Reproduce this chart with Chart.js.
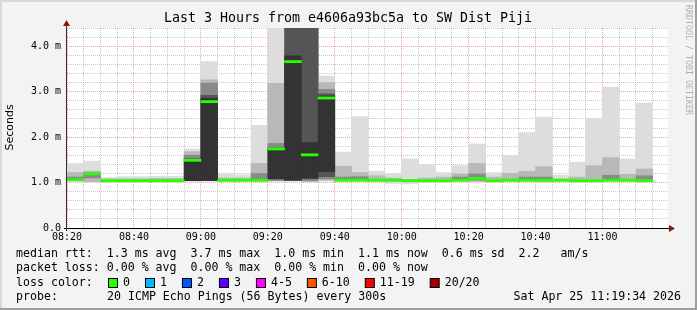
<!DOCTYPE html>
<html lang="en">
<head>
  <meta charset="UTF-8">
  <title>Last 3 Hours from e4606a93bc5a to SW Dist Piji</title>
  <script src="https://cdn.jsdelivr.net/npm/chart.js"></script>
  <style>
    html, body { margin: 0; padding: 0; background: #f3f3f3; }
    canvas { display: block; }
  </style>
</head>
<body>
  <canvas id="chart" width="697" height="310"></canvas>
  <script>
    // 5 minute slots (start time of each slot)
    const times = ['08:20','08:25','08:30','08:35','08:40','08:45','08:50','08:55','09:00','09:05',
                   '09:10','09:15','09:20','09:25','09:30','09:35','09:40','09:45','09:50','09:55',
                   '10:00','10:05','10:10','10:15','10:20','10:25','10:30','10:35','10:40','10:45',
                   '10:50','10:55','11:00','11:05','11:10'];

    // median rtt per slot (ms)
    const medianRtt = [1.06,1.19,1.04,1.04,1.04,1.04,1.04,1.49,2.78,1.05,
                       1.05,1.05,1.74,3.66,1.61,2.86,1.05,1.05,1.05,1.05,
                       1.04,1.04,1.04,1.05,1.09,1.04,1.05,1.05,1.05,1.05,
                       1.04,1.04,1.05,1.05,1.04];

    // smoke bands [low, high] in ms, from outer (lightest) to core (darkest)
    const smokeOuter = [[1.03,1.42],[1.00,1.47],[1.03,1.11],[1.03,1.13],[1.03,1.13],[1.03,1.14],[1.03,1.14],[1.03,1.74],[1.03,3.66],[1.03,1.19],
                        [1.03,1.17],[1.02,2.26],[1.03,4.5],[1.03,4.5],[1.03,4.5],[1.03,3.34],[1.03,1.67],[1.03,2.45],[1.03,1.25],[0.98,1.20],
                        [0.97,1.52],[1.02,1.39],[1.03,1.22],[1.03,1.37],[1.00,1.85],[1.03,1.22],[1.03,1.59],[1.03,2.10],[1.01,2.44],[1.03,1.16],
                        [1.02,1.45],[1.03,2.40],[1.03,3.10],[1.03,1.52],[1.03,2.75]];
    const smokeMid = [[1.04,1.22],[1.02,1.25],[1.04,1.08],[1.04,1.08],[1.04,1.08],[1.04,1.09],[1.04,1.09],[1.06,1.68],[1.05,3.26],[1.04,1.10],
                      [1.04,1.10],[1.04,1.42],[1.05,3.18],[1.04,4.5],[1.04,4.5],[1.05,3.20],[1.04,1.36],[1.04,1.22],[1.04,1.15],[1.03,1.10],
                      [1.02,1.07],[1.03,1.10],[1.04,1.12],[1.04,1.19],[1.03,1.42],[1.04,1.12],[1.04,1.20],[1.04,1.25],[1.03,1.35],[1.04,1.08],
                      [1.03,1.12],[1.04,1.37],[1.04,1.55],[1.04,1.18],[1.04,1.30]];
    const smokeInner = [[1.05,1.12],[1.10,1.21],null,null,null,null,null,[1.10,1.60],[1.06,3.19],null,
                        null,[1.05,1.20],[1.04,1.86],null,[1.03,4.5],[1.08,3.05],[1.05,1.12],[1.05,1.13],null,null,
                        null,null,null,[1.05,1.12],[1.05,1.19],null,null,[1.05,1.12],[1.05,1.12],null,
                        null,null,[1.05,1.16],null,[1.05,1.15]];
    const smokeDark = [null,null,null,null,null,null,null,null,[1.05,2.92],null,
                       null,null,null,[1.04,4.5],[1.08,4.5],[1.13,2.95],null,null,null,null,
                       null,null,null,null,null,null,null,null,null,null,
                       null,null,null,null,null];
    const smokeCore = [null,null,null,null,null,null,null,[1.04,1.52],[1.04,2.85],null,
                       null,null,[1.08,1.76],[1.06,3.79],[1.10,1.88],[1.24,2.90],null,null,null,null,
                       null,null,null,null,null,null,null,null,null,null,
                       null,null,null,null,null];

    const lossLabels = ['0','1','2','3','4-5','6-10','11-19','20/20'];
    const lossColors = ['#26ff00','#00b8ff','#0059ff','#5e00ff','#ff00ff','#ff5500','#ff0000','#a10000'];

    const toMin = t => { const p = t.split(':').map(Number); return p[0] * 60 + p[1]; };
    const xs = times.map(t => toMin(t) + 2.5);
    const fmt = m => String(Math.floor(m / 60)).padStart(2, '0') + ':' + String(m % 60).padStart(2, '0');

    function band(arr) {
      const out = [];
      arr.forEach((v, i) => { if (v) out.push({ x: xs[i], y: v }); });
      return out;
    }
    const medianBars = medianRtt.map((m, i) => ({ x: xs[i], y: [m - 0.024, m + 0.024] }));

    function barSet(data, color, order) {
      return { type: 'bar', data: data, backgroundColor: color, borderWidth: 0, order: order,
               grouped: false, barPercentage: 1, categoryPercentage: 1 };
    }

    const MONO = '"DejaVu Sans Mono", monospace';
    const minorGrid = 'rgba(128,128,128,0.45)';
    const majorGrid = 'rgba(222,80,80,0.5)';

    const decor = {
      id: 'decor',
      beforeDraw(chart) {
        const c = chart.ctx, a = chart.chartArea;
        c.save();
        c.fillStyle = '#f3f3f3';
        c.fillRect(0, 0, 697, 310);
        c.fillStyle = '#d8d8d8';
        c.fillRect(0, 0, 697, 2);
        c.fillRect(0, 0, 2, 310);
        c.fillStyle = '#9e9e9e';
        c.fillRect(695, 0, 2, 310);
        c.fillRect(0, 308, 697, 2);
        c.fillStyle = '#ffffff';
        c.fillRect(a.left, a.top, a.right - a.left, a.bottom - a.top);
        c.restore();
      },
      afterDraw(chart) {
        const c = chart.ctx, a = chart.chartArea;
        c.save();
        // axes
        c.lineWidth = 1;
        c.strokeStyle = '#000';
        c.beginPath();
        c.moveTo(a.left - 3, a.bottom + 0.5);
        c.lineTo(a.right + 2, a.bottom + 0.5);
        c.stroke();
        c.strokeStyle = '#3a2a2a';
        c.beginPath();
        c.moveTo(a.left - 0.5, a.bottom + 3);
        c.lineTo(a.left - 0.5, a.top - 4);
        c.stroke();
        c.fillStyle = '#8b1414';
        c.beginPath();
        c.moveTo(a.right + 1, a.bottom - 3);
        c.lineTo(a.right + 1, a.bottom + 4);
        c.lineTo(a.right + 7, a.bottom + 0.5);
        c.closePath();
        c.fill();
        c.beginPath();
        c.moveTo(a.left - 4, a.top - 2);
        c.lineTo(a.left + 3, a.top - 2);
        c.lineTo(a.left - 0.5, a.top - 8);
        c.closePath();
        c.fill();

        // title
        c.fillStyle = '#000';
        c.font = '13.3px ' + MONO;
        c.textAlign = 'center';
        c.textBaseline = 'middle';
        c.fillText('Last 3 Hours from e4606a93bc5a to SW Dist Piji', 348, 19);

        // y title
        c.save();
        c.translate(10.5, 127.5);
        c.rotate(-Math.PI / 2);
        c.font = '11px "DejaVu Sans", sans-serif';
        c.fillText('Seconds', 0, 0);
        c.restore();

        // watermark
        c.save();
        c.translate(688.5, 60);
        c.rotate(Math.PI / 2);
        c.font = '8.3px ' + MONO;
        c.fillStyle = '#b0b0b0';
        c.fillText('RRDTOOL / TOBI OETIKER', 0, 0);
        c.restore();

        // legend
        c.font = '11.6px ' + MONO;
        c.textAlign = 'left';
        c.fillStyle = '#000';
        c.fillText('median rtt:  1.3 ms avg  3.7 ms max  1.0 ms min  1.1 ms now  0.6 ms sd  2.2   am/s', 16, 254);
        c.fillText('packet loss: 0.00 % avg  0.00 % max  0.00 % min  0.00 % now', 16, 268);
        c.fillText('loss color:', 16, 283);
        let x = 108.5;
        lossLabels.forEach((lab, i) => {
          c.fillStyle = lossColors[i];
          c.fillRect(x, 278.5, 9, 9);
          c.strokeStyle = '#000';
          c.strokeRect(x, 278.5, 9, 9);
          c.fillStyle = '#000';
          c.fillText(lab, x + 14.5, 283);
          x += 14.5 + c.measureText(lab).width + 15.5;
        });
        c.fillText('probe:', 16, 297);
        c.fillText('20 ICMP Echo Pings (56 Bytes) every 300s', 107, 297);
        c.textAlign = 'right';
        c.fillText('Sat Apr 25 11:19:34 2026', 681, 297);
        c.restore();
      }
    };

    const ctx = document.getElementById('chart').getContext('2d');
    const chart = new Chart(ctx, {
      data: {
        datasets: [
          barSet(medianBars, lossColors[0], 0),
          barSet(band(smokeCore), '#333333', 1),
          barSet(band(smokeDark), '#555555', 2),
          barSet(band(smokeInner), '#8a8a8a', 3),
          barSet(band(smokeMid), '#b8b8b8', 4),
          barSet(band(smokeOuter), '#dddddd', 5)
        ]
      },
      options: {
        responsive: false,
        animation: false,
        devicePixelRatio: 1,
        layout: { padding: { left: 0, top: 28, right: 29, bottom: 0 } },
        plugins: { legend: { display: false }, tooltip: { enabled: false }, title: { display: false } },
        scales: {
          x: {
            type: 'linear',
            offset: false,
            min: 500,
            max: 679.57,
            z: 1,
            afterFit: s => { s.height = 82; },
            ticks: {
              stepSize: 5,
              includeBounds: false,
              autoSkip: false,
              maxRotation: 0,
              padding: 3,
              color: '#000',
              font: { family: MONO, size: 10 },
              callback: v => (v % 20 === 0 ? fmt(v) : '')
            },
            grid: {
              offset: false,
              drawTicks: false,
              color: c => (c.tick && c.tick.value % 20 === 0 ? majorGrid : minorGrid)
            },
            border: { display: false, dash: [1, 1] }
          },
          y: {
            min: 0,
            max: 4.4,
            z: 1,
            afterFit: s => { s.width = 67; },
            ticks: {
              stepSize: 0.2,
              autoSkip: false,
              padding: 6,
              color: '#000',
              font: { family: MONO, size: 10 },
              callback: v => {
                if (Math.abs(v - Math.round(v)) > 1e-6) return '';
                return Math.round(v) === 0 ? '0.0' : Math.round(v).toFixed(1) + ' m';
              }
            },
            grid: {
              drawTicks: false,
              color: c => (c.tick && Math.abs(c.tick.value - Math.round(c.tick.value)) < 1e-6 ? majorGrid : minorGrid)
            },
            border: { display: false, dash: [1, 1] }
          }
        }
      },
      plugins: [decor]
    });
  </script>
</body>
</html>
